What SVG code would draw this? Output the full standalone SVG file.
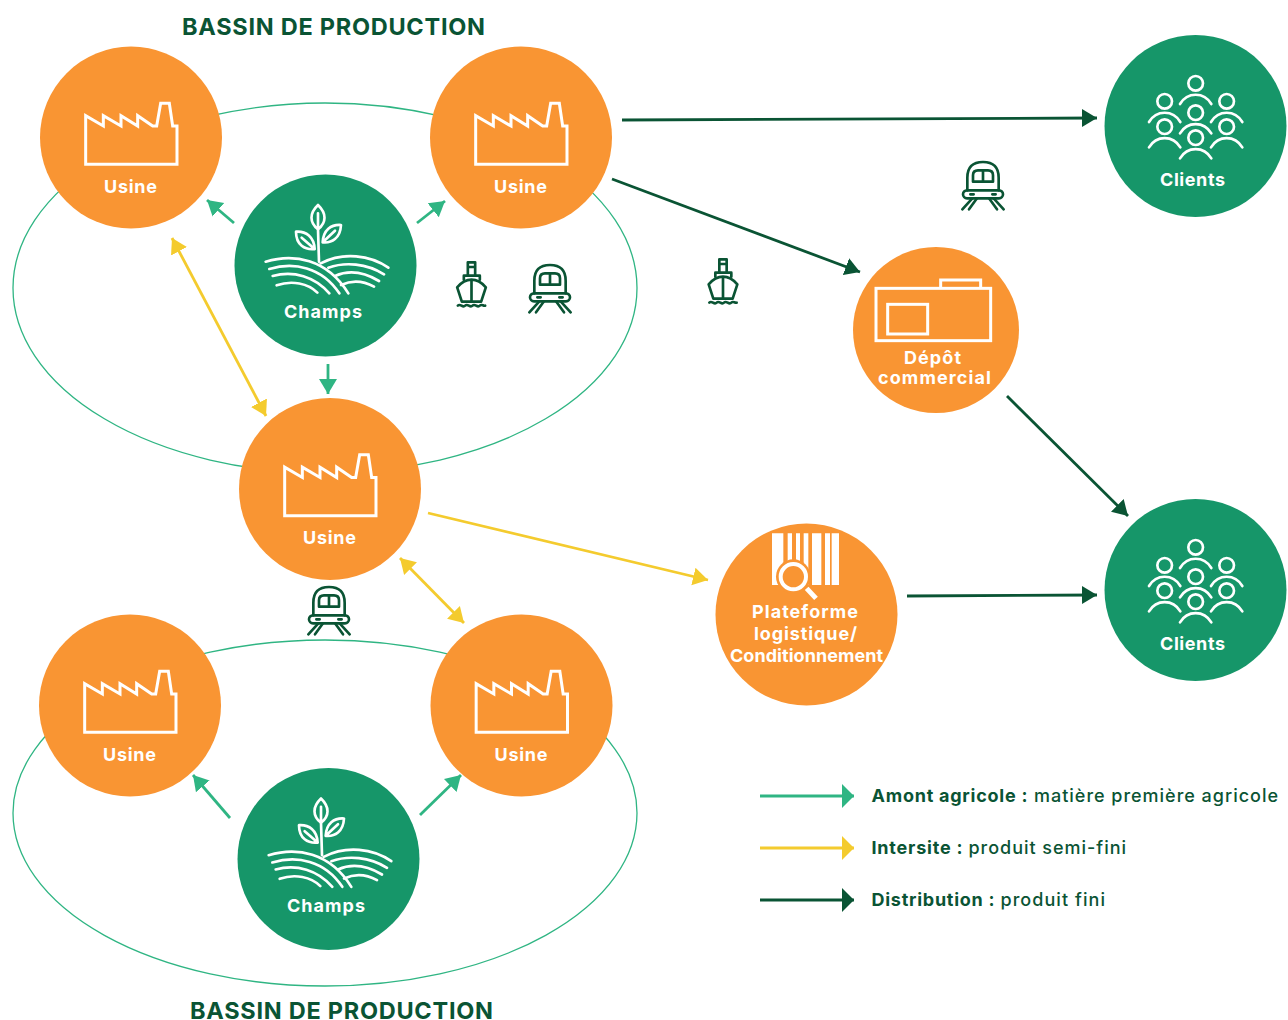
<svg xmlns="http://www.w3.org/2000/svg" width="1288" height="1020" viewBox="0 0 1288 1020">
<style>
text{font-family:"Inter","Liberation Sans",sans-serif;font-weight:700}
.lbl{fill:#fff;font-size:18px;text-anchor:middle}
.title{fill:#0a5434;font-size:23.5px}
.leg{fill:#0a5434;font-size:18px}
.reg{font-weight:500}
.or{fill:#f99533}.gr{fill:#169669}
.ic{fill:none;stroke:#fff;stroke-width:8;stroke-linecap:round;stroke-linejoin:round}
.miter{stroke-linejoin:miter;stroke-linecap:butt;stroke-width:9}
.dk{fill:none;stroke:#0a5434;stroke-width:8;stroke-linecap:round;stroke-linejoin:round}
.basin{fill:none;stroke:#2fb583;stroke-width:1.3}
.c{fill:none;stroke-width:2.8}
.cg{stroke:#2fb583}.cy{stroke:#f4cb2e}.cd{stroke:#0a5434}
</style>
<defs>
<marker id="mg" markerUnits="userSpaceOnUse" markerWidth="16" markerHeight="20" viewBox="0 0 16 20" refX="15" refY="10" orient="auto-start-reverse"><path d="M0,1 L15,10 L0,19Z" fill="#2fb583"/></marker>
<marker id="my" markerUnits="userSpaceOnUse" markerWidth="16" markerHeight="20" viewBox="0 0 16 20" refX="15" refY="10" orient="auto-start-reverse"><path d="M0,1 L15,10 L0,19Z" fill="#f4cb2e"/></marker>
<marker id="md" markerUnits="userSpaceOnUse" markerWidth="16" markerHeight="20" viewBox="0 0 16 20" refX="15" refY="10" orient="auto-start-reverse"><path d="M0,1 L15,10 L0,19Z" fill="#0a5434"/></marker>
<marker id="lg" markerUnits="userSpaceOnUse" markerWidth="14" markerHeight="24" viewBox="0 0 14 24" refX="13" refY="12" orient="auto"><path d="M1,0 L13,12 L1,24Z" fill="#2fb583"/></marker>
<marker id="ly" markerUnits="userSpaceOnUse" markerWidth="14" markerHeight="24" viewBox="0 0 14 24" refX="13" refY="12" orient="auto"><path d="M1,0 L13,12 L1,24Z" fill="#f4cb2e"/></marker>
<marker id="ld" markerUnits="userSpaceOnUse" markerWidth="14" markerHeight="24" viewBox="0 0 14 24" refX="13" refY="12" orient="auto"><path d="M1,0 L13,12 L1,24Z" fill="#0a5434"/></marker>
<g id="factory"><path class="ic miter" transform="scale(.3333) translate(-273,-292.5)" d="M137,373 V227 L190,258 V227 L243,258 V227 L293,258 V227 L338,258 H350 L362,190 H388 L398,258 H411 V373Z"/></g>
<g id="field" class="ic" transform="scale(.3333) translate(-286.5,-286.5)">
<path d="M264,105 C238,130 238,157 264,178 C290,157 290,130 264,105Z M264,130 V178"/>
<path d="M198,185 C198,225 225,240 254,237 C252,200 228,183 198,185Z M215,203 L254,237"/>
<path d="M333,165 C331,205 305,220 278,217 C280,180 303,163 333,165Z M315,182 L278,217"/>
<path d="M264,178 L267,275"/>
<path d="M107,275 C190,250 290,265 355,370 M118,297 C190,275 275,290 328,370 M128,318 C190,300 255,320 298,370 M140,346 C185,330 235,340 262,368"/>
<path d="M272,280 C340,245 420,255 475,293 M295,293 C345,275 410,280 462,313 M315,318 C355,300 400,305 447,333 M333,345 C365,330 400,332 432,350"/>
</g>
<g id="person"><circle cx="0" cy="0" r="22" class="ic"/><path class="ic" d="M-47,62 C-25,25 25,25 47,62"/></g>
<g id="people" transform="scale(.3333) translate(-286.5,-288)">
<use href="#person" x="287" y="160"/><use href="#person" x="194" y="214"/><use href="#person" x="380" y="214"/><use href="#person" x="287" y="248"/><use href="#person" x="194" y="290"/><use href="#person" x="380" y="290"/><use href="#person" x="287" y="323"/>
</g>
<g id="ship" class="dk" transform="scale(.3333) translate(-65,-88)">
<path d="M54,20 H76 V60 H54Z M54,34 H76 M42,72 V60 H90 V72"/>
<path d="M22,95 C35,80 50,72 65,72 C80,72 95,80 108,95 L94,138 H36Z M65,72 V138"/>
<path d="M24,150 C32,142 38,158 46,150 C54,142 60,158 68,150 C76,142 82,158 90,150 C96,144 100,152 106,150"/>
</g>
<g id="train" class="dk" transform="scale(.3333) translate(-300,-100)">
<path d="M253,113 V75 Q253,28 300,28 Q347,28 347,75 V113"/>
<path d="M270,87 V68 Q270,53 285,53 H315 Q330,53 330,68 V87Z M300,53 V87"/>
<rect x="240" y="113" width="120" height="24" rx="12"/>
<path d="M262,125 H272 M328,125 H338"/>
<path d="M268,137 L238,170 M332,137 L362,170 M282,137 L258,170 M318,137 L342,170"/>
</g>
</defs>

<g id="bassins">
<ellipse class="basin" cx="325" cy="288" rx="312" ry="185"/>
<ellipse class="basin" cx="325" cy="813" rx="312" ry="173"/>
</g>

<g id="connectors">
<path class="c cg" d="M234,223 L207,200" marker-end="url(#mg)"/>
<path class="c cg" d="M417,223 L445,201" marker-end="url(#mg)"/>
<path class="c cg" d="M328,364 L328,394" marker-end="url(#mg)"/>
<path class="c cg" d="M230,818 L193,775" marker-end="url(#mg)"/>
<path class="c cg" d="M420,815 L461,775" marker-end="url(#mg)"/>
<path class="c cy" d="M172,238 L266,416" marker-start="url(#my)" marker-end="url(#my)"/>
<path class="c cy" d="M400,558 L464,623" marker-start="url(#my)" marker-end="url(#my)"/>
<path class="c cy" d="M428,513 L708,580" marker-end="url(#my)"/>
<path class="c cd" d="M622,120 L1097,118" marker-end="url(#md)"/>
<path class="c cd" d="M612,179 L860,272" marker-end="url(#md)"/>
<path class="c cd" d="M1007,396 L1128,516" marker-end="url(#md)"/>
<path class="c cd" d="M907,596 L1097,595" marker-end="url(#md)"/>
</g>

<g id="usine-1"><circle class="or" cx="131" cy="137.5" r="91"/><use href="#factory" x="131" y="137.5"/><text class="lbl" x="130.5" y="192.5" textLength="53">Usine</text></g>
<g id="usine-2"><circle class="or" cx="521" cy="137.5" r="91"/><use href="#factory" x="521" y="137.5"/><text class="lbl" x="520.5" y="192.5" textLength="53">Usine</text></g>
<g id="usine-3"><circle class="or" cx="330" cy="489" r="91"/><use href="#factory" x="330" y="489"/><text class="lbl" x="329.5" y="544" textLength="53">Usine</text></g>
<g id="usine-4"><circle class="or" cx="130" cy="705.5" r="91"/><use href="#factory" x="130" y="705.5"/><text class="lbl" x="129.5" y="761" textLength="53">Usine</text></g>
<g id="usine-5"><circle class="or" cx="521.5" cy="705.5" r="91"/><use href="#factory" x="521.5" y="705.5"/><text class="lbl" x="521" y="761" textLength="53">Usine</text></g>

<g id="champs-1"><circle class="gr" cx="325.5" cy="265.5" r="91"/><use href="#field" x="325.5" y="265.5"/><text class="lbl" x="323" y="317.5" textLength="78">Champs</text></g>
<g id="champs-2"><circle class="gr" cx="328.5" cy="859" r="91"/><use href="#field" x="328.5" y="859"/><text class="lbl" x="326" y="911.5" textLength="78">Champs</text></g>

<g id="clients-1"><circle class="gr" cx="1195.5" cy="126" r="91"/><use href="#people" x="1195.5" y="126"/><text class="lbl" x="1192.5" y="185.5" textLength="65">Clients</text></g>
<g id="clients-2"><circle class="gr" cx="1195.5" cy="590" r="91"/><use href="#people" x="1195.5" y="590"/><text class="lbl" x="1192.5" y="649.5" textLength="65">Clients</text></g>

<g id="depot"><circle class="or" cx="936" cy="330" r="83"/>
<g class="ic miter" transform="translate(936,330) scale(.3333) translate(-258,-255)"><path d="M272,132 V105 H392 V132"/><rect x="78" y="130" width="344" height="157"/><rect x="113" y="178" width="120" height="89"/></g>
<text class="lbl" x="932.5" y="364" textLength="57">Dépôt</text><text class="lbl" x="934.5" y="384" textLength="113">commercial</text></g>

<g id="plateforme"><circle class="or" cx="806.5" cy="614.5" r="91"/>
<g transform="translate(806.5,614.5) scale(.3333) translate(-289.5,-283.5)"><path fill="#fff" d="M186,40H220V195H186Z M233,40H246V195H233Z M258,40H270V195H258Z M281,40H295V195H281Z M306,40H334V195H306Z M345,40H360V195H345Z M365,40H387V195H365Z"/><circle cx="250" cy="170" r="52" fill="#f99533"/><circle cx="250" cy="170" r="38" fill="#f99533" stroke="#fff" stroke-width="12"/><path d="M290,205 L318,235" stroke="#fff" stroke-width="15" fill="none"/></g>
<text class="lbl" x="805" y="618" textLength="106">Plateforme</text><text class="lbl" x="805.5" y="640" textLength="103">logistique/</text><text class="lbl" x="806.5" y="661.5" textLength="153">Conditionnement</text></g>

<g id="transports">
<use href="#ship" x="471.5" y="285"/><use href="#ship" x="723" y="282"/>
<use href="#train" x="550" y="289"/><use href="#train" x="983" y="186"/><use href="#train" x="329" y="611"/>
</g>

<text class="title" x="182" y="35" textLength="303">BASSIN DE PRODUCTION</text>
<text class="title" x="190" y="1018.5" textLength="303">BASSIN DE PRODUCTION</text>

<g id="legend">
<path class="c cg" d="M760,796 H854" marker-end="url(#lg)"/>
<path class="c cy" d="M760,848 H854" marker-end="url(#ly)"/>
<path class="c cd" d="M760,900 H854" marker-end="url(#ld)"/>
<text class="leg" y="802"><tspan x="871.5" textLength="156">Amont agricole :</tspan><tspan class="reg" x="1034" textLength="244">matière première agricole</tspan></text>
<text class="leg" y="854"><tspan x="871.5" textLength="91">Intersite :</tspan><tspan class="reg" x="968.5" textLength="157.5">produit semi-fini</tspan></text>
<text class="leg" y="906"><tspan x="871.5" textLength="123">Distribution :</tspan><tspan class="reg" x="1000.5" textLength="104.5">produit fini</tspan></text>
</g>
</svg>
